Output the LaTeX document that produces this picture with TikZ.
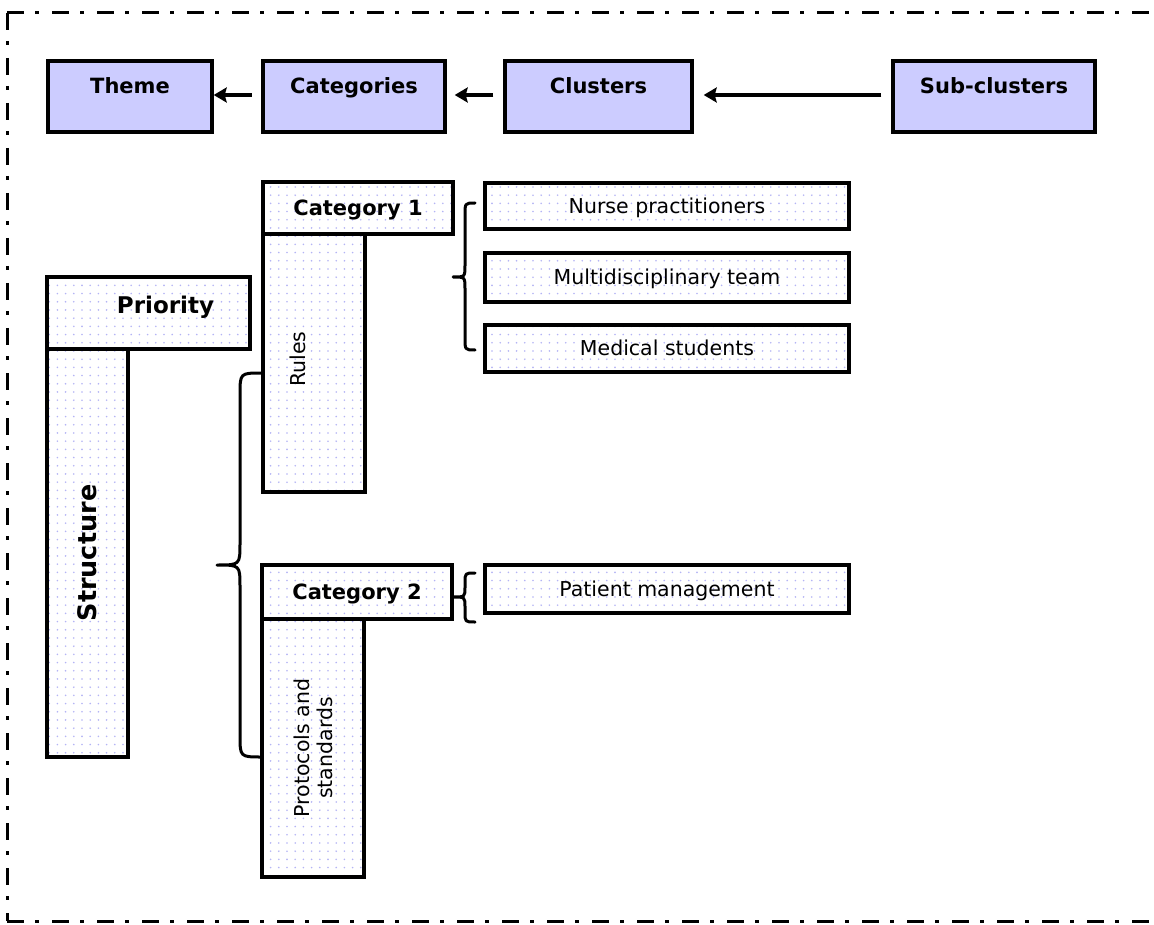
\documentclass[tikz,border=0pt]{standalone}
\usepackage{fontspec}
\setmainfont{DejaVu Sans}
\usetikzlibrary{arrows.meta,patterns.meta}
\definecolor{boxblue}{RGB}{204,204,255}
\definecolor{dotblue}{RGB}{180,180,245}

% curly brace: #1 arm x, #2 spine x, #3 tip x, #4 top y, #5 tip y, #6 bottom y, #7 curl length
\newcommand{\bracepath}[7]{%
  \draw[bracestyle] (#1,#4) .. controls (#2,#4) .. (#2,#4+#7) -- (#2,#5-#7)
    .. controls (#2,#5) .. (#3,#5) .. controls (#2,#5) .. (#2,#5+#7)
    -- (#2,#6-#7) .. controls (#2,#6) .. (#1,#6);}

\tikzset{
  topbox/.style={draw, line width=3.4pt, fill=boxblue, inner sep=0pt,
    font=\fontsize{21}{24}\selectfont\bfseries, text height=15pt, text depth=20pt},
  dotbox/.style={draw, line width=3.4pt, pattern={Dots[distance=8.2pt, radius=0.9pt]},
    pattern color=dotblue, inner sep=0pt},
  boldlbl/.style={font=\fontsize{21}{24}\selectfont\bfseries, text height=15pt, text depth=0pt},
  plainlbl/.style={font=\fontsize{20.5}{23}\selectfont, text height=14.6pt, text depth=0pt},
  link/.style={line width=4.2pt, -{Stealth[length=13pt,width=15pt,inset=2pt]}},
  bracestyle/.style={line width=3pt, line cap=round, line join=round},
  frame/.style={line width=3pt, dash pattern=on 17pt off 11pt on 4pt off 13pt}
}

\begin{document}
\begin{tikzpicture}[x=1pt, y=-1pt]
  \fill[white] (0,0) rectangle (1154,925);
  \useasboundingbox (0,0) rectangle (1154,925);

  % dash-dot frame
  \draw[frame] (7,13) -- (1154,13);
  \draw[frame] (7,13) -- (7,921);
  \draw[frame] (7,921) -- (1154,921);

  % legend row
  \node[topbox, minimum width=164pt, minimum height=71pt] (theme) at (130,96.5) {Theme};
  \node[topbox, minimum width=182pt, minimum height=71pt] (categories) at (354,96.5) {Categories};
  \node[topbox, minimum width=187pt, minimum height=71pt] (clusters) at (598.5,96.5) {Clusters};
  \node[topbox, minimum width=202pt, minimum height=71pt] (subclusters) at (994,96.5) {Sub-clusters};

  \draw[link] ([xshift=-9.5pt,yshift=1.5pt]categories.west) -- ([yshift=1.5pt]theme.east);
  \draw[link] ([xshift=-10pt,yshift=1.5pt]clusters.west) -- ([xshift=8pt,yshift=1.5pt]categories.east);
  \draw[link] ([xshift=-10pt,yshift=1.5pt]subclusters.west) -- ([xshift=10pt,yshift=1.5pt]clusters.east);

  % theme
  \node[dotbox, font=\fontsize{23}{26}\selectfont\bfseries, text height=16pt, text depth=16pt,
        minimum width=203pt, minimum height=72pt] (priority) at (148.5,313) {\hspace*{34pt}Priority};
  \node[dotbox, font=\fontsize{25.5}{28}\selectfont\bfseries, rotate=90,
        minimum width=408pt, minimum height=81pt] (structure) at (87.5,553) {Structure};

  % categories
  \node[dotbox, plainlbl, rotate=90, text height=15pt, text depth=33pt,
        minimum width=258pt, minimum height=102pt] (rules) at (314,363) {\hspace*{8pt}Rules};
  \node[dotbox, boldlbl, minimum width=190pt, minimum height=52pt] (cat1) at (358,208) {Category 1};

  \node[dotbox, font=\fontsize{20.5}{23}\selectfont, rotate=90, align=center,
        minimum width=258pt, minimum height=102pt] (protocols) at (313,748) {Protocols and\\standards};
  \node[dotbox, boldlbl, minimum width=190pt, minimum height=54pt] (cat2) at (357,592) {Category 2};

  % clusters
  \node[dotbox, plainlbl, minimum width=364pt, minimum height=46pt] (nurse) at (667,206) {Nurse practitioners};
  \node[dotbox, plainlbl, minimum width=364pt, minimum height=49pt] (multi) at (667,277.5) {Multidisciplinary team};
  \node[dotbox, plainlbl, minimum width=364pt, minimum height=47pt] (medical) at (667,348.5) {Medical students};
  \node[dotbox, plainlbl, minimum width=364pt, minimum height=48pt] (patient) at (667,589) {Patient management};

  % braces
  \bracepath{262}{240}{217}{373}{565}{757}{22}
  \bracepath{475}{465}{453}{203}{277}{350}{12}
  \bracepath{475}{465}{453}{573}{597}{622}{10}
\end{tikzpicture}
\end{document}
